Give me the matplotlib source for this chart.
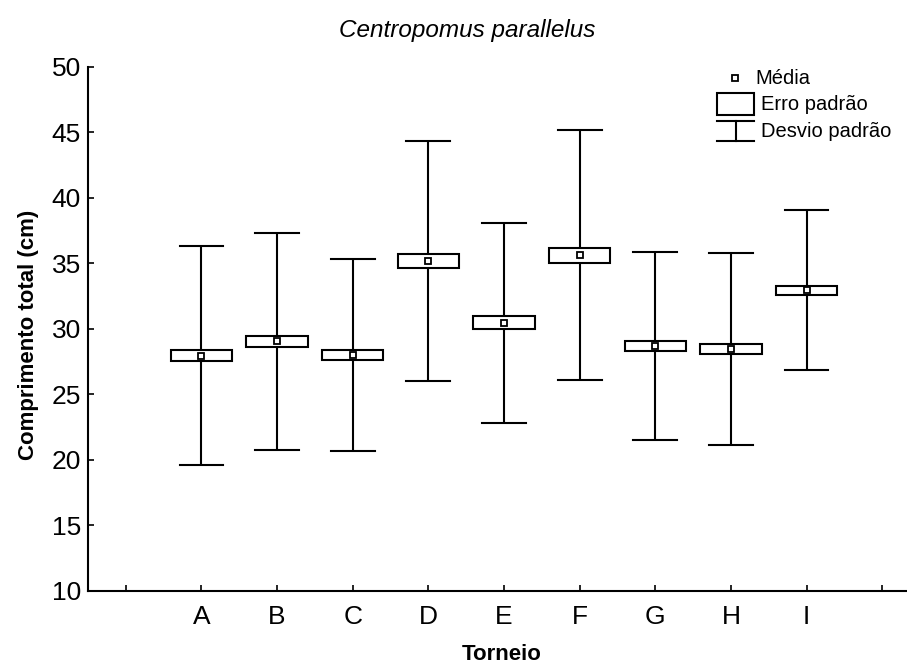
import matplotlib
matplotlib.use("Agg")
import matplotlib.pyplot as plt
from matplotlib.patches import Rectangle
from matplotlib.lines import Line2D

plt.rcParams['font.family'] = ['Liberation Sans', 'DejaVu Sans']

categories = ['A', 'B', 'C', 'D', 'E', 'F', 'G', 'H', 'I']
means = [27.96, 29.05, 28.0, 35.18, 30.48, 35.62, 28.70, 28.47, 32.94]
se = [0.41, 0.41, 0.41, 0.55, 0.50, 0.57, 0.41, 0.41, 0.33]
sd = [8.33, 8.27, 7.34, 9.19, 7.64, 9.56, 7.18, 7.33, 6.12]

W, H = 907, 666
fig = plt.figure(figsize=(W / 100, H / 100), dpi=100)
ax = fig.add_axes([88 / W, 1 - 590.7 / H, (920 - 88) / W, (590.7 - 67) / H])

box_w = 0.81
cap_w = 0.58
lw = 1.5
for i, (m, s, d) in enumerate(zip(means, se, sd)):
    x = i + 1
    ax.plot([x, x], [m - d, m + d], color='black', lw=lw, zorder=1, solid_capstyle='butt')
    ax.plot([x - cap_w / 2, x + cap_w / 2], [m + d, m + d], color='black', lw=lw, zorder=1)
    ax.plot([x - cap_w / 2, x + cap_w / 2], [m - d, m - d], color='black', lw=lw, zorder=1)
    ax.add_patch(Rectangle((x - box_w / 2, m - s), box_w, 2 * s, facecolor='white',
                           edgecolor='black', lw=lw, zorder=2))
    ax.plot([x], [m], marker='s', ms=4.5, mfc='white', mec='black', mew=1.3, zorder=3)

ax.set_xlim(-0.5, 10.5)
ax.set_ylim(10, 50)
ax.set_xticks(range(0, 11))
ax.set_xticklabels([''] + categories + [''])
ax.set_yticks(range(10, 51, 5))
for sp in ['top', 'right']:
    ax.spines[sp].set_visible(False)
for sp in ['left', 'bottom']:
    ax.spines[sp].set_linewidth(1.5)
ax.tick_params(axis='both', direction='in', length=4, width=1.2, labelsize=19, colors='black')
ax.tick_params(axis='x', pad=10.5)
ax.tick_params(axis='y', pad=5)

fig.text(29 / W, 1 - 335 / H, 'Comprimento total (cm)', fontsize=16, fontweight='bold',
         rotation=90, ha='center', va='center')
fig.text(502 / W, 1 - 654 / H, 'Torneio', fontsize=16, fontweight='bold', ha='center', va='center')
fig.text(467 / W, 1 - 31 / H, 'Centropomus parallelus', fontsize=17.5, style='italic',
         ha='center', va='center')

# legend
def fx(px):
    return px / W

def fy(py):
    return 1 - py / H

fig.add_artist(Line2D([fx(735)], [fy(78)], marker='s', ms=4.5, mfc='white', mec='black', mew=1.3,
                      transform=fig.transFigure))
fig.text(fx(755), fy(78), 'Média', fontsize=14.5, va='center', ha='left')
fig.add_artist(Rectangle((fx(717), fy(115)), fx(754) - fx(717), fy(93) - fy(115),
                         facecolor='white', edgecolor='black', lw=lw, transform=fig.transFigure))
fig.text(fx(761), fy(105), 'Erro padrão', fontsize=14.5, va='center', ha='left')
fig.add_artist(Line2D([fx(717), fx(754)], [fy(120.7), fy(120.7)], color='black', lw=lw,
                      transform=fig.transFigure))
fig.add_artist(Line2D([fx(735.5), fx(735.5)], [fy(120.7), fy(141)], color='black', lw=lw,
                      transform=fig.transFigure))
fig.add_artist(Line2D([fx(717), fx(754)], [fy(141), fy(141)], color='black', lw=lw,
                      transform=fig.transFigure))
fig.text(fx(761), fy(131.5), 'Desvio padrão', fontsize=14.5, va='center', ha='left')

fig.savefig('out.png', dpi=100, facecolor='white')
